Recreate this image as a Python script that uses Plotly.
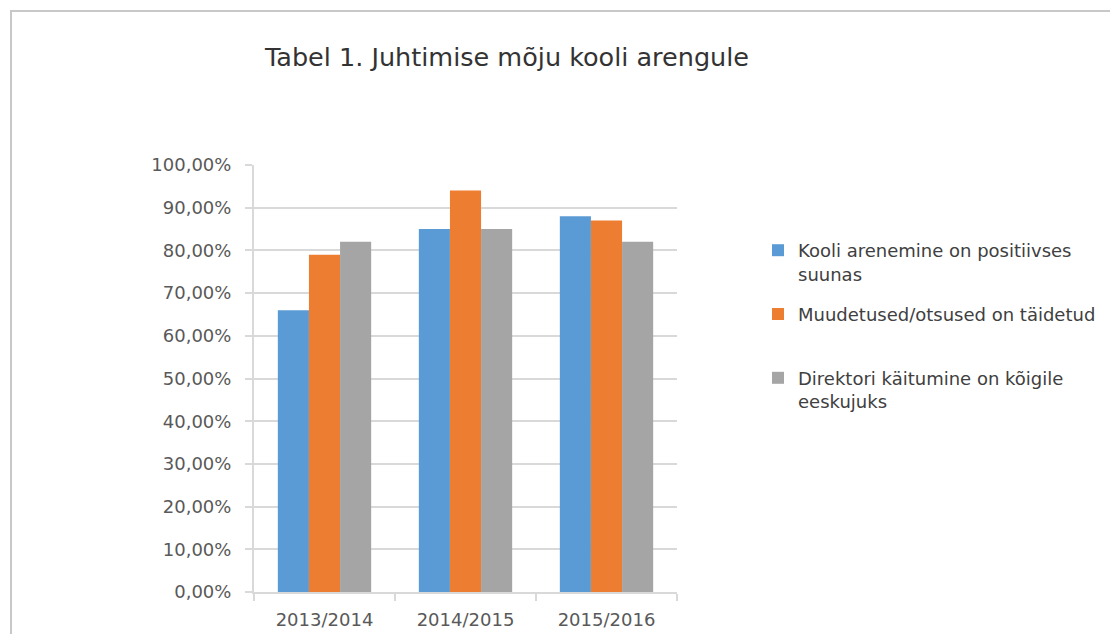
import plotly.graph_objects as go

categories = ["2013/2014", "2014/2015", "2015/2016"]
series_names = [
    "Kooli arenemine on positiivses<br>suunas",
    "Muudetused/otsused on täidetud<br>&nbsp;",
    "Direktori käitumine on kõigile<br>eeskujuks",
]
kooli = [0.66, 0.85, 0.88]
muudetused = [0.79, 0.94, 0.87]
direktori = [0.82, 0.85, 0.82]
colors = ["#5B9BD5", "#ED7D31", "#A5A5A5"]
y_ticks = [0, 0.1, 0.2, 0.3, 0.4, 0.5, 0.6, 0.7, 0.8, 0.9, 1.0]
title_text = "Tabel 1. Juhtimise mõju kooli arengule"

# the page body adds an 8px offset; figure coordinates below account for it
W, H = 1110, 626
ml, mt = 246, 157
pr, pb = 669, 584          # right / bottom edges of the plot area
mr, mb = W - pr, H - pb
pw, ph = pr - ml, pb - mt

fig = go.Figure()
for i, (name, vals) in enumerate(zip(series_names, [kooli, muudetused, direktori])):
    fig.add_trace(go.Bar(
        x=categories, y=vals, name=name, marker_color=colors[i],
        marker_line_width=0, legendgroup=f"g{i}",
    ))

FONT = "DejaVu Sans"
fig.update_layout(
    width=W, height=H,
    margin=dict(l=ml, r=mr, t=mt, b=mb, autoexpand=False),
    paper_bgcolor="white", plot_bgcolor="white",
    barmode="group", bargap=0.338, bargroupgap=0,
    separators=", ",
    font=dict(family=FONT, color="#595959"),
    title=dict(text=title_text, x=499 / W, xanchor="center", xref="container",
               y=1 - 49 / H, yanchor="middle", yref="container",
               font=dict(family=FONT, size=25.5, color="#333333")),
    legend=dict(x=(750 - ml) / pw, xanchor="left", y=1 - (224 - mt) / ph, yanchor="top",
                font=dict(family=FONT, size=18, color="#404040"),
                tracegroupgap=14, valign="top", itemwidth=30,
                bgcolor="rgba(0,0,0,0)"),
    showlegend=True,
)
fig.update_yaxes(
    range=[0, 1], tickvals=y_ticks, tickformat=".2%", automargin=False,
    showgrid=True, gridcolor="#d9d9d9", gridwidth=2,
    showline=True, linecolor="#d9d9d9", linewidth=2,
    ticks="outside", ticklen=7, tickcolor="#d9d9d9", tickwidth=2,
    ticklabelstandoff=10,
    tickfont=dict(family=FONT, size=18, color="#595959"), zeroline=False,
)
fig.update_xaxes(
    automargin=False,
    showline=True, linecolor="#d9d9d9", linewidth=2,
    ticks="outside", ticklen=7, tickcolor="#d9d9d9", tickwidth=2,
    tickson="boundaries", ticklabelstandoff=10,
    tickfont=dict(family=FONT, size=18, color="#595959"),
)
# outer frame of the chart object
fig.add_shape(type="rect", xref="paper", yref="paper",
              x0=(3 - ml) / pw, x1=(W + 20 - ml) / pw,
              y0=-(H + 20 - pb) / ph, y1=1 + (mt - 3) / ph,
              line=dict(color="#c8c8c8", width=2), layer="below")
fig.write_html("out.html")
